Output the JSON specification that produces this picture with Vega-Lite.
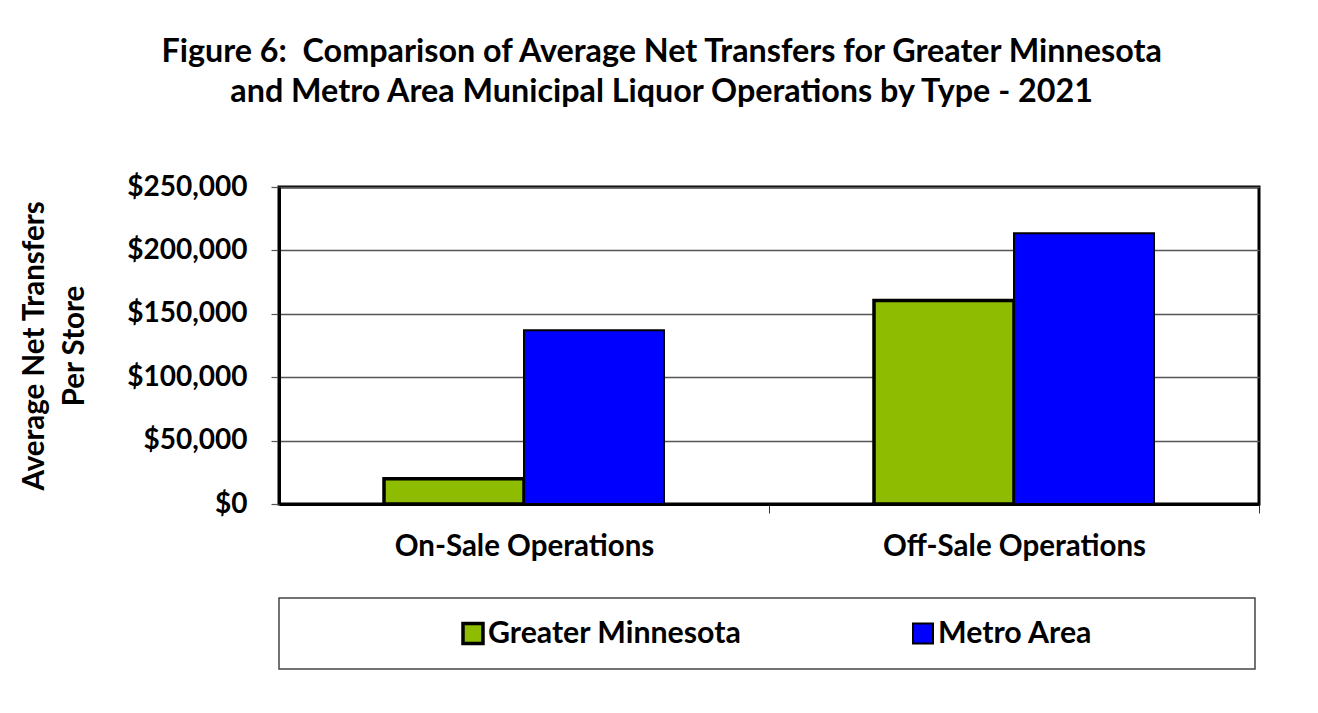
{
  "$schema": "https://vega.github.io/schema/vega-lite/v6.json",
  "autosize": {"type": "pad"},
  "padding": {"left": 18, "top": 36, "right": 0, "bottom": 0},
  "background": "white",
  "title": {
    "text": ["Figure 6:\u00a0 Comparison of Average Net Transfers for Greater Minnesota", "and Metro Area Municipal Liquor Operations by Type - 2021"],
    "font": "Lato", "fontSize": 32.3, "fontWeight": "bold", "color": "black",
    "lineHeight": 40, "anchor": "middle", "frame": "bounds", "dx": 22, "offset": 63
  },
  "spacing": 35,
  "vconcat": [
    {
      "width": 980,
      "height": 317,
      "data": {"values": [
        {"operation": "On-Sale Operations", "region": "Greater Minnesota", "transfer": 20000},
        {"operation": "On-Sale Operations", "region": "Metro Area", "transfer": 137000},
        {"operation": "Off-Sale Operations", "region": "Greater Minnesota", "transfer": 160500},
        {"operation": "Off-Sale Operations", "region": "Metro Area", "transfer": 213500}
      ]},
      "mark": {"type": "bar", "stroke": "black"},
      "encoding": {
        "x": {
          "field": "operation", "type": "nominal",
          "sort": ["On-Sale Operations", "Off-Sale Operations"],
          "scale": {"paddingInner": 0.428571, "paddingOuter": 0.214286},
          "axis": {
            "title": null, "labelAngle": 0, "labelFont": "Lato", "labelFontSize": 29.5,
            "labelFontWeight": "bold", "labelColor": "black", "labelPadding": 19, "labelLimit": 500,
            "bandPosition": 1, "tickExtra": false, "tickOffset": 105, "labelOffset": -105,
            "tickSize": 9, "tickColor": "#333", "tickWidth": 1,
            "domainColor": "black", "domainWidth": 3, "grid": false
          }
        },
        "xOffset": {"field": "region", "type": "nominal", "sort": ["Greater Minnesota", "Metro Area"]},
        "y": {
          "field": "transfer", "type": "quantitative",
          "scale": {"domain": [0, 250000]},
          "axis": {
            "values": [0, 50000, 100000, 150000, 200000, 250000],
            "format": "$,.0f",
            "title": ["Average Net Transfers", "Per Store"],
            "titleFont": "Lato", "titleFontSize": 29.5, "titleFontWeight": "bold", "titleColor": "black",
            "titleLineHeight": 40, "titlePadding": 37,
            "labelFont": "Lato", "labelFontSize": 28, "labelFontWeight": "bold", "labelColor": "black",
            "labelPadding": 24, "tickSize": 8, "tickColor": "#555", "tickWidth": 1.2,
            "domainColor": "black", "domainWidth": 3,
            "grid": true, "gridColor": "#555", "gridWidth": 1.3
          }
        },
        "color": {
          "field": "region", "type": "nominal",
          "scale": {"domain": ["Greater Minnesota", "Metro Area"], "range": ["#8DBC00", "#0000FF"]},
          "legend": null
        },
        "strokeWidth": {
          "field": "region", "type": "nominal",
          "scale": {"domain": ["Greater Minnesota", "Metro Area"], "range": [3.5, 2]},
          "legend": null
        }
      }
    },
    {
      "width": 976,
      "height": 71,
      "view": {"stroke": "#444", "strokeWidth": 1.5},
      "data": {"values": [
        {"region": "Greater Minnesota"},
        {"region": "Metro Area"}
      ]},
      "encoding": {
        "x": {
          "field": "region", "type": "nominal", "sort": ["Greater Minnesota", "Metro Area"],
          "scale": {"type": "point", "padding": 0.58444, "align": 0.36882},
          "axis": null
        },
        "color": {"field": "region", "type": "nominal", "legend": null}
      },
      "layer": [
        {
          "mark": {"type": "point", "shape": "square", "size": 400, "filled": true, "opacity": 1, "stroke": "black"},
          "encoding": {"strokeWidth": {"field": "region", "type": "nominal", "legend": null}}
        },
        {
          "mark": {"type": "text", "align": "left", "dx": 15, "baseline": "middle", "font": "Lato", "fontSize": 30.3, "fontWeight": "bold"},
          "encoding": {"text": {"field": "region"}, "color": {"value": "black"}}
        }
      ]
    }
  ],
  "config": {
    "view": {"stroke": "black", "strokeWidth": 3},
    "font": "Lato"
  }
}
